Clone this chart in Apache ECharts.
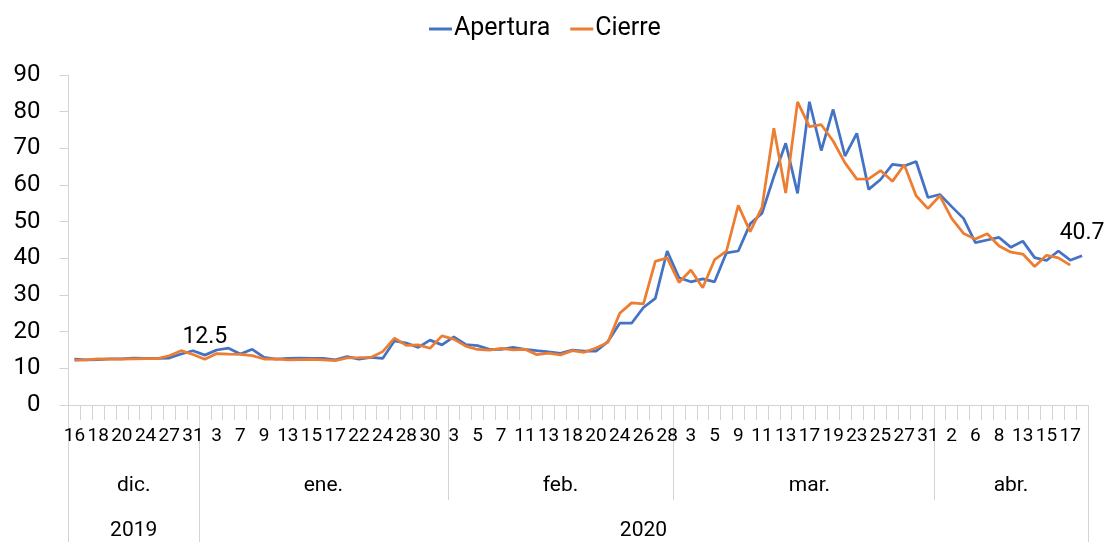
<!DOCTYPE html>
<html>
<head>
<meta charset="utf-8">
<script src="https://cdn.jsdelivr.net/npm/echarts@6/dist/echarts.min.js"></script>
<style>
  html, body { margin: 0; padding: 0; background: #fff; }
  #chart { width: 1107px; height: 542px; }
</style>
</head>
<body>
<div id="chart"></div>
<script>
// trading days, dic. 2019 - abr. 2020
const days = [
  '16', '17', '18', '19', '20', '23', '24', '26', '27', '30', '31',
  '2', '3', '6', '7', '8', '9', '10', '13', '14', '15', '16', '17', '21', '22', '23', '24', '27', '28', '29', '30', '31',
  '3', '4', '5', '6', '7', '10', '11', '12', '13', '14', '18', '19', '20', '21', '24', '25', '26', '27', '28',
  '2', '3', '4', '5', '6', '9', '10', '11', '12', '13', '16', '17', '18', '19', '20', '23', '24', '25', '26', '27', '30', '31',
  '1', '2', '3', '6', '7', '8', '9', '13', '14', '15', '16', '17', '20'
];
const months = ['dic.', 'ene.', 'feb.', 'mar.', 'abr.'];
const monthLengths = [11, 21, 19, 22, 13];
const years = ['2019', '2020'];
const yearLengths = [11, 75];

const apertura = [
  12.5, 12.3, 12.4, 12.6, 12.6, 12.8, 12.7, 12.7, 12.8, 13.9, 14.8,
  13.6, 15.0, 15.5, 13.9, 15.2, 13.0, 12.5, 12.7, 12.8, 12.7, 12.7, 12.3, 13.2, 12.5, 13.0, 12.7, 17.5, 16.9, 15.7, 17.7, 16.4,
  18.6, 16.5, 16.2, 15.2, 15.2, 15.7, 15.2, 14.8, 14.5, 14.1, 15.0, 14.7, 14.7, 17.3, 22.3, 22.3, 26.6, 29.1, 42.0,
  34.7, 33.6, 34.4, 33.6, 41.5, 42.0, 49.4, 52.3, 62.3, 71.4, 57.7, 82.7, 69.4, 80.6, 67.9, 74.1, 58.8, 61.5, 65.6, 65.2, 66.4, 56.6,
  57.4, 54.1, 50.9, 44.3, 45.0, 45.7, 43.0, 44.7, 40.2, 39.4, 42.0, 39.5, 40.7
];
const cierre = [
  12.14, 12.29, 12.58, 12.50, 12.51, 12.61, 12.67, 12.65, 13.43, 14.82, 13.78,
  12.47, 14.02, 13.85, 13.79, 13.45, 12.54, 12.56, 12.32, 12.39, 12.42, 12.32, 12.10, 12.85, 12.91, 12.98, 14.56, 18.23, 16.28, 16.39, 15.49, 18.84,
  17.97, 16.05, 15.15, 14.96, 15.47, 15.04, 15.18, 13.74, 14.15, 13.68, 14.83, 14.38, 15.56, 17.08, 25.03, 27.85, 27.56, 39.16, 40.11,
  33.42, 36.82, 31.99, 39.62, 41.94, 54.46, 47.30, 53.90, 75.47, 57.83, 82.69, 75.91, 76.45, 72.00, 66.04, 61.59, 61.67, 63.95, 61.00, 65.54, 57.08, 53.54,
  57.06, 50.91, 46.80, 45.24, 46.70, 43.35, 41.67, 41.17, 37.76, 40.84, 40.11, 38.15, null
];
// points that carry a value label
const aperturaLabelIdx = 85;
const cierreLabelIdx = 11;

const BLUE = '#4472C4';
const ORANGE = '#ED7D31';
const AXIS_GREY = '#d4d4d4';
const FONT = 'Roboto';

// one category per day, with the first index and the middle index of every group
const expandGroups = (names, lengths) => {
  const cats = [];
  const starts = [];
  const mids = [];
  names.forEach((name, k) => {
    starts.push(cats.length);
    mids.push(cats.length + Math.floor(lengths[k] / 2));
    for (let j = 0; j < lengths[k]; j++) cats.push(name);
  });
  return { cats, starts, mids };
};
const monthAxis = expandGroups(months, monthLengths);
const yearAxis = expandGroups(years, yearLengths);

const withLabel = (values, idx) =>
  values.map((v, i) => (i === idx ? { value: v, label: { show: true } } : v));

const dataLabel = {
  show: false,
  position: 'top',
  distance: 11,
  fontFamily: FONT,
  fontSize: 23,
  color: '#000',
  formatter: (p) => p.value.toFixed(1),
};

const chart = echarts.init(document.getElementById('chart'));

const option = {
  animation: false,
  textStyle: { fontFamily: FONT },
  legend: {
    data: ['Apertura', 'Cierre'],
    top: 11,
    left: 424,
    icon: 'rect',
    itemWidth: 23,
    itemHeight: 3,
    itemGap: 20,
    textStyle: { fontFamily: FONT, fontSize: 25, lineHeight: 26, color: '#000', padding: [0, 0, 0, -3] },
  },
  grid: {
    left: 68.5,
    right: 19,
    top: 75,
    bottom: 137,
    containLabel: false,
    outerBoundsMode: 'none',
  },
  xAxis: [
    {
      type: 'category',
      position: 'bottom',
      data: days,
      boundaryGap: true,
      axisLine: { lineStyle: { color: AXIS_GREY, width: 1 } },
      axisTick: { show: true, interval: 0, length: 15, lineStyle: { color: AXIS_GREY } },
      axisLabel: { interval: 1, margin: 21, fontSize: 19, lineHeight: 20, color: '#000', fontFamily: FONT },
    },
    {
      // month row
      type: 'category',
      position: 'bottom',
      data: monthAxis.cats,
      boundaryGap: true,
      axisLine: { show: false },
      axisTick: {
        show: true,
        interval: (i) => monthAxis.starts.includes(i),
        length: 95,
        lineStyle: { color: AXIS_GREY },
      },
      axisLabel: {
        interval: (i) => monthAxis.mids.includes(i),
        margin: 71,
        fontSize: 21,
        lineHeight: 20,
        color: '#000',
        fontFamily: FONT,
      },
    },
    {
      // year row
      type: 'category',
      position: 'bottom',
      data: yearAxis.cats,
      boundaryGap: true,
      axisLine: { show: false },
      axisTick: {
        show: true,
        interval: (i) => yearAxis.starts.includes(i),
        length: 140,
        lineStyle: { color: AXIS_GREY },
      },
      axisLabel: {
        interval: (i) => yearAxis.mids.includes(i),
        margin: 116,
        fontSize: 21,
        lineHeight: 20,
        color: '#000',
        fontFamily: FONT,
      },
    },
  ],
  yAxis: {
    type: 'value',
    min: 0,
    max: 90,
    interval: 10,
    axisLine: { show: true, lineStyle: { color: AXIS_GREY } },
    axisTick: { show: true, length: 9, lineStyle: { color: AXIS_GREY } },
    splitLine: { show: false },
    axisLabel: { margin: 28, fontSize: 24, color: '#000', fontFamily: FONT },
  },
  series: [
    {
      name: 'Apertura',
      type: 'line',
      xAxisIndex: 0,
      data: withLabel(apertura, aperturaLabelIdx),
      symbol: 'circle',
      symbolSize: 0,
      showAllSymbol: true,
      lineStyle: { color: BLUE, width: 2.75 },
      itemStyle: { color: BLUE },
      label: dataLabel,
    },
    {
      name: 'Cierre',
      type: 'line',
      xAxisIndex: 0,
      data: withLabel(cierre, cierreLabelIdx),
      symbol: 'circle',
      symbolSize: 0,
      showAllSymbol: true,
      lineStyle: { color: ORANGE, width: 2.75 },
      itemStyle: { color: ORANGE },
      label: dataLabel,
    },
  ],
};

chart.setOption(option);
</script>
</body>
</html>
